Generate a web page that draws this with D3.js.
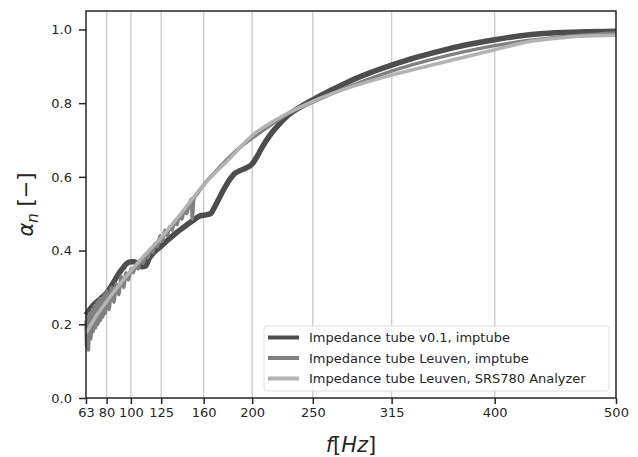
<!doctype html>
<html lang="en">
<head>
<meta charset="utf-8">
<title>Absorption coefficient comparison</title>
<style>
body { margin: 0; background: #fff; font-family: "DejaVu Sans", sans-serif; }
svg { display: block; }
</style>
</head>
<body>
<div id="chart"></div>
<script src="https://cdn.jsdelivr.net/npm/d3@7"></script>
<script>
// x ticks (third-octave centre frequencies) and y ticks
var freqTicks = [63, 80, 100, 125, 160, 200, 250, 315, 400, 500];
var alphaTicks = [0.0, 0.2, 0.4, 0.6, 0.8, 1.0];

var seriesNames = [
    "Impedance tube v0.1, imptube",
    "Impedance tube Leuven, imptube",
    "Impedance tube Leuven, SRS780 Analyzer"
];

// [frequency Hz, alpha_n]
var v01Imptube = [
    [63, 0.225], [66, 0.24], [70, 0.255], [75, 0.27], [80, 0.285], [85, 0.31], [90, 0.338],
    [94, 0.355], [97, 0.366], [100, 0.37], [103, 0.37], [106, 0.362], [109, 0.356],
    [112, 0.358], [115, 0.378], [119, 0.395], [125, 0.412], [131, 0.43], [137, 0.447],
    [143, 0.462], [148, 0.474], [153, 0.486], [157, 0.494], [162, 0.497], [166, 0.501],
    [169, 0.518], [172, 0.537], [175, 0.556], [178, 0.574], [182, 0.595], [186, 0.61],
    [190, 0.617], [195, 0.624], [200, 0.635], [204, 0.655], [207, 0.673], [211, 0.695],
    [216, 0.719], [222, 0.742], [230, 0.768], [240, 0.79], [250, 0.809], [265, 0.835],
    [280, 0.859], [297, 0.882], [315, 0.903], [333, 0.922], [353, 0.94], [375, 0.957],
    [400, 0.972], [420, 0.982], [440, 0.989], [470, 0.993], [500, 0.995]
];

var leuvenImptube = [
    [63, 0.21], [63.5, 0.14], [64, 0.22], [65, 0.13], [66, 0.23], [67, 0.16], [68, 0.24],
    [69, 0.18], [70, 0.25], [71, 0.19], [72, 0.26], [73, 0.2], [74, 0.27], [75, 0.21],
    [76, 0.27], [77, 0.22], [78, 0.28], [79, 0.23], [80, 0.29], [82, 0.24], [84, 0.3],
    [86, 0.26], [88, 0.31], [90, 0.28], [92, 0.33], [94, 0.3], [96, 0.34], [98, 0.32],
    [100, 0.35], [102, 0.34], [104, 0.36], [106, 0.35], [108, 0.375], [110, 0.365],
    [112, 0.39], [114, 0.38], [116, 0.405], [118, 0.395], [120, 0.42], [122, 0.41],
    [124, 0.44], [126, 0.425], [128, 0.455], [130, 0.44], [132, 0.465], [134, 0.455],
    [136, 0.48], [138, 0.47], [140, 0.495], [142, 0.485], [144, 0.51], [146, 0.5],
    [148, 0.525], [150, 0.54], [150.5, 0.485], [152, 0.54], [155, 0.555], [160, 0.578],
    [170, 0.615], [180, 0.65], [190, 0.68], [200, 0.705], [215, 0.74], [230, 0.772],
    [250, 0.803], [280, 0.845], [315, 0.887], [350, 0.92], [400, 0.956], [450, 0.978],
    [500, 0.99]
];

var leuvenSrs780 = [
    [63, 0.175], [70, 0.215], [80, 0.262], [90, 0.305], [100, 0.345], [112, 0.39],
    [125, 0.435], [140, 0.495], [160, 0.578], [180, 0.645], [200, 0.712], [225, 0.765],
    [250, 0.805], [280, 0.842], [315, 0.876], [350, 0.905], [400, 0.945], [430, 0.968],
    [460, 0.979], [500, 0.984]
];

var allSeries = [v01Imptube, leuvenImptube, leuvenSrs780];
var colours = ["#4d4d4d", "#808080", "#b3b3b3"];
var widths = [5.5, 3.5, 3.5];

var W = 638, H = 457;
var margin = {top: 11, right: 22, bottom: 59, left: 86};
var w = W - margin.left - margin.right,
    h = H - margin.top - margin.bottom;

var svg = d3.select("#chart").append("svg")
    .attr("width", W)
    .attr("height", H);

var g = svg.append("g")
    .attr("transform", "translate(" + margin.left + "," + margin.top + ")");

var x = d3.scaleLinear().domain([63, 500]).range([0, w]);
var y = d3.scaleLinear().domain([0, 1.05]).range([h, 0]);

// vertical grid at the band frequencies
g.append("g").selectAll("line")
    .data(freqTicks.slice(1, -1))
    .enter().append("line")
    .attr("x1", function(d) { return x(d); })
    .attr("x2", function(d) { return x(d); })
    .attr("y1", 0)
    .attr("y2", h)
    .style("stroke", "#cccccc")
    .style("stroke-width", 1.4);

var line = d3.line()
    .x(function(d) { return x(d[0]); })
    .y(function(d) { return y(d[1]); })
    .curve(d3.curveMonotoneX);

g.append("g").selectAll("path")
    .data(allSeries)
    .enter().append("path")
    .attr("d", line)
    .style("fill", "none")
    .style("stroke", function(d, i) { return colours[i]; })
    .style("stroke-width", function(d, i) { return widths[i]; })
    .style("stroke-linejoin", "round");

// axes
var xAxis = g.append("g")
    .attr("transform", "translate(0," + h + ")")
    .call(d3.axisBottom(x).tickValues(freqTicks).tickSize(6).tickPadding(4));
var yAxis = g.append("g")
    .call(d3.axisLeft(y).tickValues(alphaTicks).tickFormat(d3.format(".1f")).tickSize(7).tickPadding(7));

[xAxis, yAxis].forEach(function(ax) {
    ax.select(".domain").remove();
    ax.selectAll(".tick line").style("stroke", "#262626").style("stroke-width", 1.5);
    ax.selectAll(".tick text")
        .style("font-family", "DejaVu Sans")
        .style("font-size", "13px")
        .style("fill", "#262626");
});

// frame
g.append("rect")
    .attr("width", w)
    .attr("height", h)
    .style("fill", "none")
    .style("stroke", "#262626")
    .style("stroke-width", 1.5);

// axis titles
var xLab = svg.append("text")
    .attr("x", margin.left + w / 2)
    .attr("y", 452)
    .attr("text-anchor", "middle")
    .style("font-family", "DejaVu Sans")
    .style("font-size", "21px")
    .style("fill", "#262626");
xLab.append("tspan").style("font-style", "italic").text("f");
xLab.append("tspan").text("[");
xLab.append("tspan").style("font-style", "italic").text("Hz");
xLab.append("tspan").text("]");

var yLab = svg.append("text")
    .attr("transform", "translate(33," + (margin.top + h / 2) + ") rotate(-90)")
    .attr("text-anchor", "middle")
    .style("font-family", "DejaVu Sans")
    .style("font-size", "21px")
    .style("fill", "#262626");
yLab.append("tspan").style("font-style", "italic").text("α");
yLab.append("tspan").style("font-style", "italic").style("font-size", "15px").attr("dy", 5).text("n");
yLab.append("tspan").attr("dy", -5).text(" [−]");

// legend
var legend = g.append("g")
    .attr("transform", "translate(" + (264 - margin.left) + "," + (326 - margin.top) + ")");
legend.append("rect")
    .attr("width", 345)
    .attr("height", 65)
    .attr("rx", 3)
    .style("fill", "#ffffff")
    .style("fill-opacity", 0.85)
    .style("stroke", "#dddddd")
    .style("stroke-width", 1);

var item = legend.selectAll(".item")
    .data(seriesNames)
    .enter().append("g")
    .attr("class", "item")
    .attr("transform", function(d, i) { return "translate(0," + (11.5 + i * 20.5) + ")"; });
item.append("line")
    .attr("x1", 4)
    .attr("x2", 35)
    .style("stroke", function(d, i) { return colours[i]; })
    .style("stroke-width", 4);
item.append("text")
    .attr("x", 45)
    .attr("dy", "0.35em")
    .style("font-family", "DejaVu Sans")
    .style("font-size", "13px")
    .style("fill", "#262626")
    .text(function(d) { return d; });
</script>
</body>
</html>
